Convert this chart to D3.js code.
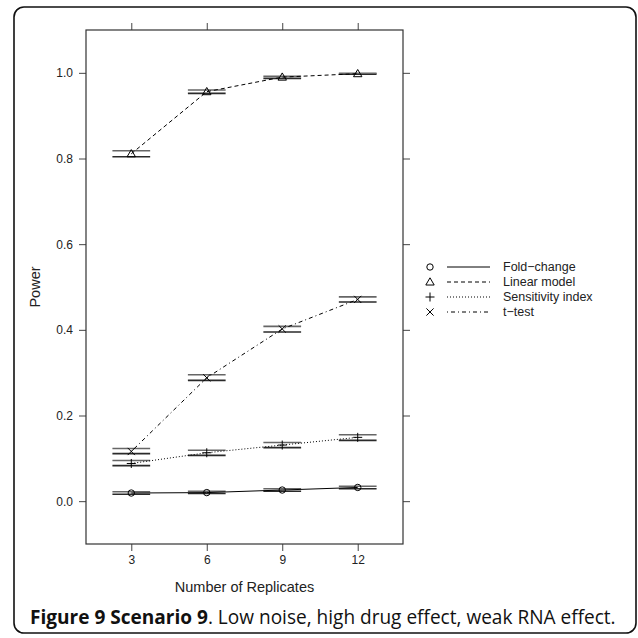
<!DOCTYPE html>
<html>
<head>
<meta charset="utf-8">
<script src="https://cdn.jsdelivr.net/npm/d3@7"></script>
<style>
  html, body { margin: 0; padding: 0; background: #fff; }
  svg { display: block; }
</style>
</head>
<body>
<svg id="chart" width="638" height="638"></svg>
<script>
// ---- data ----
const replicates = [3, 6, 9, 12];
const seriesNames = ["Fold\u2212change", "Linear model", "Sensitivity index", "t\u2212test"];
const foldChange   = [0.019, 0.020, 0.026, 0.032];
const foldChangeLo = [0.016, 0.018, 0.023, 0.029];
const foldChangeHi = [0.022, 0.023, 0.029, 0.035];
const linearModel   = [0.811, 0.956, 0.990, 0.998];
const linearModelLo = [0.804, 0.952, 0.987, 0.997];
const linearModelHi = [0.818, 0.960, 0.992, 0.999];
const sensitivity   = [0.088, 0.113, 0.131, 0.149];
const sensitivityLo = [0.083, 0.107, 0.125, 0.142];
const sensitivityHi = [0.095, 0.119, 0.137, 0.155];
const tTest   = [0.116, 0.288, 0.402, 0.471];
const tTestLo = [0.111, 0.282, 0.395, 0.465];
const tTestHi = [0.123, 0.295, 0.408, 0.477];
const yTicks = [0.0, 0.2, 0.4, 0.6, 0.8, 1.0];
const xLabel = "Number of Replicates";
const yLabel = "Power";
const captionBold = "Figure 9 Scenario 9";
const captionRest = ". Low noise, high drug effect, weak RNA effect.";

const series = [
  {name: seriesNames[0], vals: foldChange, lo: foldChangeLo, hi: foldChangeHi, dash: null, sym: "circle"},
  {name: seriesNames[1], vals: linearModel, lo: linearModelLo, hi: linearModelHi, dash: "4,3", sym: "triangle"},
  {name: seriesNames[2], vals: sensitivity, lo: sensitivityLo, hi: sensitivityHi, dash: "1,2", sym: "plus"},
  {name: seriesNames[3], vals: tTest, lo: tTestLo, hi: tTestHi, dash: "1,3,4,3", sym: "cross"}
];

// ---- layout ----
const svg = d3.select("#chart");
const P = {left: 86, right: 403, top: 30, bottom: 544};
const x = d3.scaleLinear().domain([0.4, replicates.length + 0.6]).range([P.left, P.right]);
const y = d3.scaleLinear().domain([-0.1, 1.1]).range([P.bottom, P.top]);
const axisFont = "'Liberation Sans', Arial, Helvetica, sans-serif";
const ink = "#222";

// outer figure box
svg.append("rect").attr("x", 14).attr("y", 7).attr("width", 622).attr("height", 626)
  .attr("rx", 10).attr("ry", 10).attr("fill", "none").attr("stroke", "#111").attr("stroke-width", 1.6);

// axes (lattice style: ticks on all sides)
const idx = replicates.map((d, i) => i + 1);
const xAxisB = d3.axisBottom(x).tickValues(idx).tickFormat((d) => replicates[d - 1]).tickSize(7).tickPadding(4);
const xAxisT = d3.axisTop(x).tickValues(idx).tickFormat("").tickSize(7);
const yAxisL = d3.axisLeft(y).tickValues(yTicks).tickFormat(d3.format(".1f")).tickSize(7).tickPadding(6);
const yAxisR = d3.axisRight(y).tickValues(yTicks).tickFormat("").tickSize(7);

function styleAxis(g) {
  g.select(".domain").remove();
  g.selectAll(".tick line").attr("stroke", "#444").attr("stroke-width", 1);
  g.selectAll(".tick text").attr("fill", ink).style("font-family", axisFont).style("font-size", "12px");
}
svg.append("g").attr("transform", `translate(0,${P.bottom})`).call(xAxisB).call(styleAxis);
svg.append("g").attr("transform", `translate(0,${P.top})`).call(xAxisT).call(styleAxis);
svg.append("g").attr("transform", `translate(${P.left},0)`).call(yAxisL).call(styleAxis);
svg.append("g").attr("transform", `translate(${P.right},0)`).call(yAxisR).call(styleAxis);

// panel border
svg.append("rect").attr("x", P.left).attr("y", P.top)
  .attr("width", P.right - P.left).attr("height", P.bottom - P.top)
  .attr("fill", "none").attr("stroke", "#333").attr("stroke-width", 1.2);

// axis titles
svg.append("text").attr("x", (P.left + P.right) / 2).attr("y", 592)
  .attr("text-anchor", "middle").attr("fill", ink)
  .style("font-family", axisFont).style("font-size", "14.5px").text(xLabel);
svg.append("text").attr("transform", `translate(40,${(P.top + P.bottom) / 2}) rotate(-90)`)
  .attr("text-anchor", "middle").attr("fill", ink)
  .style("font-family", axisFont).style("font-size", "14.5px").text(yLabel);

// symbols
function drawSymbol(g, type, cx, cy) {
  const s = 3.6;
  if (type === "circle") {
    g.append("circle").attr("cx", cx).attr("cy", cy).attr("r", 3.2)
      .attr("fill", "none").attr("stroke", "#000").attr("stroke-width", 1);
  } else if (type === "triangle") {
    const h = 4.2;
    g.append("path").attr("d", `M${cx},${cy - h} L${cx + h},${cy + h * 0.72} L${cx - h},${cy + h * 0.72} Z`)
      .attr("fill", "none").attr("stroke", "#000").attr("stroke-width", 1);
  } else if (type === "plus") {
    g.append("path").attr("d", `M${cx - 4.5},${cy} H${cx + 4.5} M${cx},${cy - 4.5} V${cy + 4.5}`)
      .attr("stroke", "#000").attr("stroke-width", 1);
  } else if (type === "cross") {
    g.append("path").attr("d", `M${cx - s},${cy - s} L${cx + s},${cy + s} M${cx - s},${cy + s} L${cx + s},${cy - s}`)
      .attr("stroke", "#000").attr("stroke-width", 1);
  }
}

const plot = svg.append("g");
const hw = 0.25;
series.forEach((s) => {
  // confidence bars
  s.vals.forEach((v, i) => {
    [s.lo[i], s.hi[i]].forEach((b, k) => {
      plot.append("line")
        .attr("x1", x(i + 1 - hw)).attr("x2", x(i + 1 + hw))
        .attr("y1", y(b)).attr("y2", y(b))
        .attr("stroke", k === 0 ? "#2a2a2a" : "#666").attr("stroke-width", 1.6);
    });
  });
  // connecting line
  const line = d3.line().x((d, i) => x(i + 1)).y((d) => y(d));
  plot.append("path").datum(s.vals).attr("d", line)
    .attr("fill", "none").attr("stroke", "#000").attr("stroke-width", 1)
    .attr("stroke-dasharray", s.dash);
  s.vals.forEach((v, i) => drawSymbol(plot, s.sym, x(i + 1), y(v)));
});

// legend
const leg = svg.append("g");
const legY0 = 267, legStep = 15;
series.forEach((s, i) => {
  const yy = legY0 + i * legStep;
  drawSymbol(leg, s.sym, 430, yy);
  leg.append("line").attr("x1", 447).attr("x2", 490).attr("y1", yy).attr("y2", yy)
    .attr("stroke", "#000").attr("stroke-width", 1).attr("stroke-dasharray", s.dash);
  leg.append("text").attr("x", 503).attr("y", yy).attr("dy", "0.35em").attr("fill", ink)
    .style("font-family", axisFont).style("font-size", "12.5px").text(s.name);
});

// caption
const cap = svg.append("text").attr("x", 30).attr("y", 624).attr("fill", "#111")
  .style("font-family", "'Open Sans', 'Noto Sans', sans-serif").style("font-size", "17px");
cap.append("tspan").style("font-weight", "700").text(captionBold);
cap.append("tspan").text(captionRest);
const w = cap.node().getComputedTextLength();
const target = 586;
cap.style("font-size", (17 * target / w).toFixed(2) + "px");
</script>
</body>
</html>
